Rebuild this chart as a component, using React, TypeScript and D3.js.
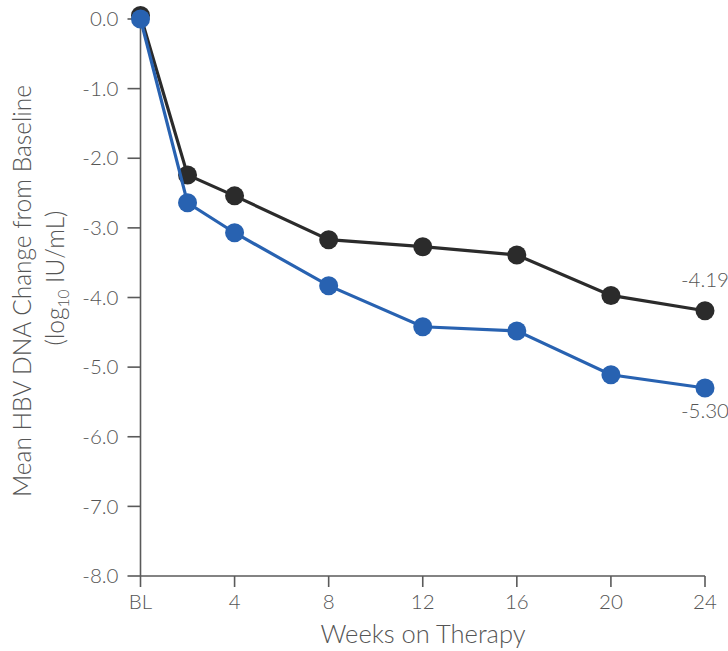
import React from "react";
import * as d3 from "d3";

const weeks = [0, 2, 4, 8, 12, 16, 20, 24];
const seriesBlack = [0.05, -2.24, -2.54, -3.17, -3.27, -3.39, -3.97, -4.19];
const seriesBlue = [0, -2.64, -3.07, -3.83, -4.42, -4.48, -5.11, -5.3];
const xTicks = [0, 4, 8, 12, 16, 20, 24];
const xTickLabels = ["BL", "4", "8", "12", "16", "20", "24"];
const yTicks = [0, -1, -2, -3, -4, -5, -6, -7, -8];
const endLabels = ["-4.19", "-5.30"];

const W = 728;
const H = 651;
const FONT = "'Source Sans Pro', Lato, 'Open Sans', sans-serif";
const TEXT = "#555555";
const AXIS = "#5a5a5a";
const BLACK = "#2b2b2b";
const BLUE = "#2862b1";

export default function App() {
  const x = d3.scaleLinear().domain([0, 24]).range([140.5, 705]);
  const y = d3.scaleLinear().domain([0, -8]).range([19, 576]);
  const line = d3
    .line<[number, number]>()
    .x((d) => x(d[0]))
    .y((d) => y(d[1]));
  const series = [
    { vals: seriesBlack, color: BLACK },
    { vals: seriesBlue, color: BLUE },
  ];
  return (
    <svg
      width={W}
      height={H}
      style={{ position: "absolute", left: 0, top: 0, background: "#fff" }}
      fontFamily={FONT}
    >
      <line x1={x(0)} x2={x(0)} y1={y(0)} y2={y(-8)} stroke={AXIS} strokeWidth={1.6} />
      <line x1={x(0)} x2={x(24)} y1={y(-8)} y2={y(-8)} stroke={AXIS} strokeWidth={1.6} />
      {yTicks.map((t) => (
        <g key={t}>
          <line x1={x(0) - 13} x2={x(0)} y1={y(t)} y2={y(t)} stroke={AXIS} strokeWidth={1.6} />
          <text
            x={x(0) - 22}
            y={y(t)}
            dy="0.35em"
            textAnchor="end"
            fontSize={20.5}
            fontWeight={300}
            fill={TEXT}
          >
            {t.toFixed(1)}
          </text>
        </g>
      ))}
      {xTicks.map((t, i) => (
        <g key={t}>
          <line x1={x(t)} x2={x(t)} y1={y(-8)} y2={y(-8) + 11} stroke={AXIS} strokeWidth={1.6} />
          <text
            x={x(t)}
            y={609}
            textAnchor="middle"
            fontSize={20.5}
            fontWeight={300}
            fill={TEXT}
          >
            {xTickLabels[i]}
          </text>
        </g>
      ))}
      <text x={423} y={643} textAnchor="middle" fontSize={25.5} fontWeight={300} fill={TEXT}>
        Weeks on Therapy
      </text>
      <g transform="translate(31,291) rotate(-90)">
        <text x={0} y={0} textAnchor="middle" fontSize={24.5} fontWeight={300} fill={TEXT}>
          Mean HBV DNA Change from Baseline
        </text>
      </g>
      <g transform="translate(64,278) rotate(-90)">
        <text x={0} y={0} textAnchor="middle" fontSize={24.5} fontWeight={300} fill={TEXT}>
          (log
          <tspan fontSize={15.5} dy={5}>10</tspan>
          <tspan dy={-5}> IU/mL)</tspan>
        </text>
      </g>
      {series.map((s, si) => {
        const pts = weeks.map((w, i) => [w, s.vals[i]] as [number, number]);
        return (
          <g key={si}>
            <path d={line(pts) || ""} fill="none" stroke={s.color} strokeWidth={3.2} />
            {pts.map((p, i) => (
              <circle key={i} cx={x(p[0])} cy={y(p[1])} r={9.5} fill={s.color} />
            ))}
          </g>
        );
      })}
      <text
        x={x(24)}
        y={y(seriesBlack[7]) - 24}
        textAnchor="middle"
        fontSize={20.5}
        fontWeight={300}
        fill={TEXT}
      >
        {endLabels[0]}
      </text>
      <text
        x={x(24)}
        y={y(seriesBlue[7]) + 30}
        textAnchor="middle"
        fontSize={20.5}
        fontWeight={300}
        fill={TEXT}
      >
        {endLabels[1]}
      </text>
    </svg>
  );
}
